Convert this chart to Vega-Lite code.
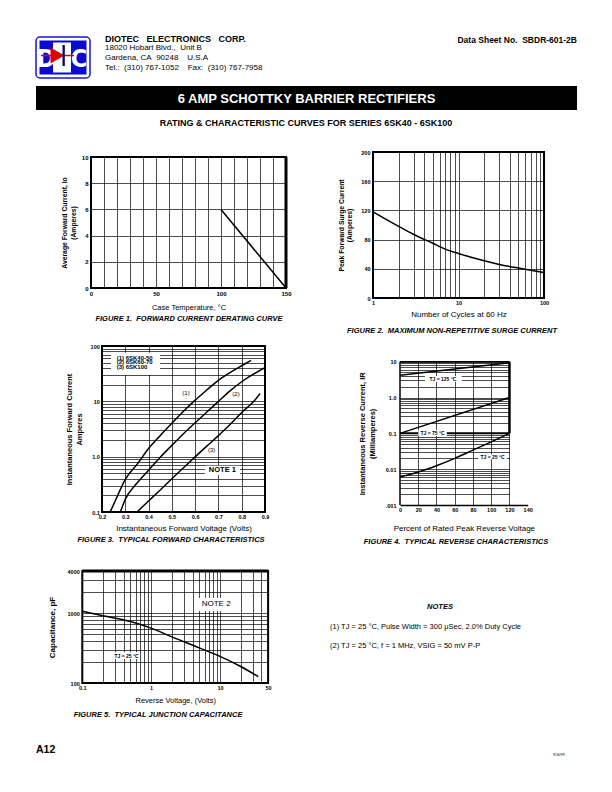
{
"$schema":"https://vega.github.io/schema/vega-lite/v6.json",
"width":612,"height":792,"padding":0,"autosize":{"type":"none"},"background":"white",
"config":{"view":{"stroke":null},"font":"Liberation Sans",
 "axis":{"labelFont":"Liberation Sans","labelFontWeight":"bold","labelFontSize":5.5,"labelColor":"black","titleFont":"Liberation Sans","titleColor":"black","titleFontWeight":"normal","titleFontSize":8,"grid":false,"domain":false,"ticks":false,"labelFlush":false,"labelOverlap":false,"labelBound":false,"gridColor":"black","gridOpacity":1,"gridWidth":0.7,"labelPadding":2.5}},
"resolve":{"scale":{"x":"independent","y":"independent"},"axis":{"x":"independent","y":"independent"}},
"layer":[
{"data":{"values":[{}]},
 "layer":[
  {"mark":{"type":"rect","fill":"white","stroke":"#1414d8","strokeWidth":1.5,"cornerRadius":4},"encoding":{"x":{"datum":36,"type":"quantitative","scale":{"domain":[0,612],"range":[0,612],"nice":false,"zero":false},"axis":null},"x2":{"datum":90},"y":{"datum":37,"type":"quantitative","scale":{"domain":[0,792],"range":[0,792],"nice":false,"zero":false},"axis":null},"y2":{"datum":78}}},
  {"mark":{"type":"rect","fill":"#0a0ad2"},"encoding":{"x":{"datum":39.5,"type":"quantitative","scale":{"domain":[0,612],"range":[0,612],"nice":false,"zero":false},"axis":null},"x2":{"datum":86.5},"y":{"datum":40.5,"type":"quantitative","scale":{"domain":[0,792],"range":[0,792],"nice":false,"zero":false},"axis":null},"y2":{"datum":74.5}}},
  {"mark":{"type":"rect","fill":"white"},"encoding":{"x":{"datum":53,"type":"quantitative","scale":{"domain":[0,612],"range":[0,612],"nice":false,"zero":false},"axis":null},"x2":{"datum":71},"y":{"datum":42.5,"type":"quantitative","scale":{"domain":[0,792],"range":[0,792],"nice":false,"zero":false},"axis":null},"y2":{"datum":72.5}}},
  {"mark":{"type":"text","text":"D","font":"Liberation Sans Narrow, DejaVu Sans Condensed, Liberation Sans","fontSize":25,"fontWeight":"bold","color":"white","align":"center","baseline":"middle"},"encoding":{"x":{"datum":46,"type":"quantitative","scale":{"domain":[0,612],"range":[0,612],"nice":false,"zero":false},"axis":null},"y":{"datum":58.5,"type":"quantitative","scale":{"domain":[0,792],"range":[0,792],"nice":false,"zero":false},"axis":null}}},
  {"mark":{"type":"text","text":"C","font":"Liberation Sans Narrow, DejaVu Sans Condensed, Liberation Sans","fontSize":25,"fontWeight":"bold","color":"white","align":"center","baseline":"middle"},"encoding":{"x":{"datum":79,"type":"quantitative","scale":{"domain":[0,612],"range":[0,612],"nice":false,"zero":false},"axis":null},"y":{"datum":58.5,"type":"quantitative","scale":{"domain":[0,792],"range":[0,792],"nice":false,"zero":false},"axis":null}}},
  {"mark":{"type":"rule","color":"#e00000","strokeWidth":1.6},"encoding":{"x":{"datum":41,"type":"quantitative","scale":{"domain":[0,612],"range":[0,612],"nice":false,"zero":false},"axis":null},"x2":{"datum":74},"y":{"datum":55.5,"type":"quantitative","scale":{"domain":[0,792],"range":[0,792],"nice":false,"zero":false},"axis":null}}},
  {"mark":{"type":"point","shape":"triangle-right","filled":true,"color":"#e00000","size":260,"opacity":1},"encoding":{"x":{"datum":57.5,"type":"quantitative","scale":{"domain":[0,612],"range":[0,612],"nice":false,"zero":false},"axis":null},"y":{"datum":55.5,"type":"quantitative","scale":{"domain":[0,792],"range":[0,792],"nice":false,"zero":false},"axis":null}}},
  {"mark":{"type":"rect","fill":"#000070"},"encoding":{"x":{"datum":62.5,"type":"quantitative","scale":{"domain":[0,612],"range":[0,612],"nice":false,"zero":false},"axis":null},"x2":{"datum":64.8},"y":{"datum":45,"type":"quantitative","scale":{"domain":[0,792],"range":[0,792],"nice":false,"zero":false},"axis":null},"y2":{"datum":66}}},
  {"mark":{"type":"text","text":"DIOTEC\u00a0\u00a0\u00a0ELECTRONICS\u00a0\u00a0\u00a0CORP.","fontSize":9,"fontWeight":"bold","align":"left","baseline":"middle"},"encoding":{"x":{"datum":105,"type":"quantitative","scale":{"domain":[0,612],"range":[0,612],"nice":false,"zero":false},"axis":null},"y":{"datum":39,"type":"quantitative","scale":{"domain":[0,792],"range":[0,792],"nice":false,"zero":false},"axis":null}}},
  {"mark":{"type":"text","text":"18020 Hobart Blvd.,\u00a0\u00a0Unit B","fontSize":8,"align":"left","baseline":"middle"},"encoding":{"x":{"datum":105,"type":"quantitative","scale":{"domain":[0,612],"range":[0,612],"nice":false,"zero":false},"axis":null},"y":{"datum":48.3,"type":"quantitative","scale":{"domain":[0,792],"range":[0,792],"nice":false,"zero":false},"axis":null}}},
  {"mark":{"type":"text","text":"Gardena, CA\u00a0\u00a090248\u00a0\u00a0\u00a0\u00a0U.S.A","fontSize":8,"align":"left","baseline":"middle"},"encoding":{"x":{"datum":105,"type":"quantitative","scale":{"domain":[0,612],"range":[0,612],"nice":false,"zero":false},"axis":null},"y":{"datum":58,"type":"quantitative","scale":{"domain":[0,792],"range":[0,792],"nice":false,"zero":false},"axis":null}}},
  {"mark":{"type":"text","text":"Tel.:\u00a0\u00a0(310) 767-1052\u00a0\u00a0\u00a0\u00a0Fax:\u00a0\u00a0(310) 767-7958","fontSize":8,"align":"left","baseline":"middle"},"encoding":{"x":{"datum":105,"type":"quantitative","scale":{"domain":[0,612],"range":[0,612],"nice":false,"zero":false},"axis":null},"y":{"datum":67.8,"type":"quantitative","scale":{"domain":[0,792],"range":[0,792],"nice":false,"zero":false},"axis":null}}},
  {"mark":{"type":"text","text":"Data Sheet No.\u00a0\u00a0SBDR-601-2B","fontSize":8.5,"fontWeight":"bold","align":"right","baseline":"middle"},"encoding":{"x":{"datum":577,"type":"quantitative","scale":{"domain":[0,612],"range":[0,612],"nice":false,"zero":false},"axis":null},"y":{"datum":40,"type":"quantitative","scale":{"domain":[0,792],"range":[0,792],"nice":false,"zero":false},"axis":null}}},
  {"mark":{"type":"rect","fill":"black"},"encoding":{"x":{"datum":36,"type":"quantitative","scale":{"domain":[0,612],"range":[0,612],"nice":false,"zero":false},"axis":null},"x2":{"datum":577},"y":{"datum":86,"type":"quantitative","scale":{"domain":[0,792],"range":[0,792],"nice":false,"zero":false},"axis":null},"y2":{"datum":110}}},
  {"mark":{"type":"text","text":"6 AMP SCHOTTKY BARRIER RECTIFIERS","fontSize":13,"fontWeight":"bold","color":"white","align":"center","baseline":"middle"},"encoding":{"x":{"datum":306.5,"type":"quantitative","scale":{"domain":[0,612],"range":[0,612],"nice":false,"zero":false},"axis":null},"y":{"datum":98.5,"type":"quantitative","scale":{"domain":[0,792],"range":[0,792],"nice":false,"zero":false},"axis":null}}},
  {"mark":{"type":"text","text":"RATING & CHARACTERISTIC CURVES FOR SERIES 6SK40 - 6SK100","fontSize":9,"fontWeight":"bold","align":"center","baseline":"middle"},"encoding":{"x":{"datum":306,"type":"quantitative","scale":{"domain":[0,612],"range":[0,612],"nice":false,"zero":false},"axis":null},"y":{"datum":123,"type":"quantitative","scale":{"domain":[0,792],"range":[0,792],"nice":false,"zero":false},"axis":null}}},
  {"mark":{"type":"text","text":"FIGURE 1.\u00a0\u00a0FORWARD CURRENT DERATING CURVE","fontSize":7.5,"fontWeight":"bold","fontStyle":"italic","align":"center","baseline":"middle"},"encoding":{"x":{"datum":189,"type":"quantitative","scale":{"domain":[0,612],"range":[0,612],"nice":false,"zero":false},"axis":null},"y":{"datum":318.5,"type":"quantitative","scale":{"domain":[0,792],"range":[0,792],"nice":false,"zero":false},"axis":null}}},
  {"mark":{"type":"text","text":"FIGURE 2.\u00a0\u00a0MAXIMUM NON-REPETITIVE SURGE CURRENT","fontSize":7.5,"fontWeight":"bold","fontStyle":"italic","align":"center","baseline":"middle"},"encoding":{"x":{"datum":452,"type":"quantitative","scale":{"domain":[0,612],"range":[0,612],"nice":false,"zero":false},"axis":null},"y":{"datum":330.5,"type":"quantitative","scale":{"domain":[0,792],"range":[0,792],"nice":false,"zero":false},"axis":null}}},
  {"mark":{"type":"text","text":"FIGURE 3.\u00a0\u00a0TYPICAL FORWARD CHARACTERISTICS","fontSize":7.5,"fontWeight":"bold","fontStyle":"italic","align":"center","baseline":"middle"},"encoding":{"x":{"datum":171,"type":"quantitative","scale":{"domain":[0,612],"range":[0,612],"nice":false,"zero":false},"axis":null},"y":{"datum":539.5,"type":"quantitative","scale":{"domain":[0,792],"range":[0,792],"nice":false,"zero":false},"axis":null}}},
  {"mark":{"type":"text","text":"FIGURE 4.\u00a0\u00a0TYPICAL REVERSE CHARACTERISTICS","fontSize":7.5,"fontWeight":"bold","fontStyle":"italic","align":"center","baseline":"middle"},"encoding":{"x":{"datum":456,"type":"quantitative","scale":{"domain":[0,612],"range":[0,612],"nice":false,"zero":false},"axis":null},"y":{"datum":542,"type":"quantitative","scale":{"domain":[0,792],"range":[0,792],"nice":false,"zero":false},"axis":null}}},
  {"mark":{"type":"text","text":"FIGURE 5.\u00a0\u00a0TYPICAL JUNCTION CAPACITANCE","fontSize":7.5,"fontWeight":"bold","fontStyle":"italic","align":"center","baseline":"middle"},"encoding":{"x":{"datum":158,"type":"quantitative","scale":{"domain":[0,612],"range":[0,612],"nice":false,"zero":false},"axis":null},"y":{"datum":715,"type":"quantitative","scale":{"domain":[0,792],"range":[0,792],"nice":false,"zero":false},"axis":null}}},
  {"mark":{"type":"text","text":"NOTES","fontSize":7.5,"fontWeight":"bold","fontStyle":"italic","align":"center","baseline":"middle"},"encoding":{"x":{"datum":440,"type":"quantitative","scale":{"domain":[0,612],"range":[0,612],"nice":false,"zero":false},"axis":null},"y":{"datum":607,"type":"quantitative","scale":{"domain":[0,792],"range":[0,792],"nice":false,"zero":false},"axis":null}}},
  {"mark":{"type":"text","text":"(1) TJ = 25 °C, Pulse Width = 300 μSec, 2.0% Duty Cycle","fontSize":7.5,"align":"left","baseline":"middle"},"encoding":{"x":{"datum":330,"type":"quantitative","scale":{"domain":[0,612],"range":[0,612],"nice":false,"zero":false},"axis":null},"y":{"datum":627,"type":"quantitative","scale":{"domain":[0,792],"range":[0,792],"nice":false,"zero":false},"axis":null}}},
  {"mark":{"type":"text","text":"(2) TJ = 25 °C, f = 1 MHz, VSIG = 50 mV P-P","fontSize":7.5,"align":"left","baseline":"middle"},"encoding":{"x":{"datum":330,"type":"quantitative","scale":{"domain":[0,612],"range":[0,612],"nice":false,"zero":false},"axis":null},"y":{"datum":646,"type":"quantitative","scale":{"domain":[0,792],"range":[0,792],"nice":false,"zero":false},"axis":null}}},
  {"mark":{"type":"text","text":"A12","fontSize":10.5,"fontWeight":"bold","align":"left","baseline":"middle"},"encoding":{"x":{"datum":36,"type":"quantitative","scale":{"domain":[0,612],"range":[0,612],"nice":false,"zero":false},"axis":null},"y":{"datum":750,"type":"quantitative","scale":{"domain":[0,792],"range":[0,792],"nice":false,"zero":false},"axis":null}}},
  {"mark":{"type":"text","text":"9/16/99","fontSize":3.5,"align":"left","baseline":"middle"},"encoding":{"x":{"datum":553,"type":"quantitative","scale":{"domain":[0,612],"range":[0,612],"nice":false,"zero":false},"axis":null},"y":{"datum":755,"type":"quantitative","scale":{"domain":[0,792],"range":[0,792],"nice":false,"zero":false},"axis":null}}}
 ]},
{"resolve":{"axis":{"x":"independent","y":"independent"}},
 "layer":[
  {"data":{"values":[{"case_temp":100,"avg_current":6},{"case_temp":150,"avg_current":0}]},
   "mark":{"type":"line","color":"black","strokeWidth":1.5},
   "encoding":{"x":{"field":"case_temp","type":"quantitative","scale":{"type":"linear","domain":[0,150],"range":[91,286],"nice":false,"zero":false},"axis":{"orient":"top","grid":true,"labels":false,"title":null,"values":[10,20,30,40,50,60,70,80,90,100,110,120,130,140]}},
    "y":{"field":"avg_current","type":"quantitative","scale":{"type":"linear","domain":[0,10],"range":[288,157],"nice":false,"zero":false},"axis":{"orient":"left","grid":true,"labels":false,"title":null,"values":[2,4,6,8]}}}},
  {"data":{"values":[{}]},
   "mark":{"type":"rect","filled":false,"color":"black","strokeWidth":2},
   "encoding":{"x":{"datum":0,"type":"quantitative","scale":{"type":"linear","domain":[0,150],"range":[91,286],"nice":false,"zero":false},"axis":{"orient":"bottom","offset":-504,"values":[0,50,100,150],"labelFontSize":6,"labelExpr":"datum.value + ''","title":"Case Temperature, °C","titleFontSize":7.5,"titlePadding":7}},
    "x2":{"datum":150},
    "y":{"datum":0,"type":"quantitative","scale":{"type":"linear","domain":[0,10],"range":[288,157],"nice":false,"zero":false},"axis":{"orient":"left","offset":-91,"values":[0,2,4,6,8,10],"labelFontSize":6,"labelPadding":3,"labelExpr":"datum.value + ''","title":["Average Forward Current, Io","(Amperes)"],"titleFontWeight":"bold","titleFontSize":6.8,"titlePadding":5}},
    "y2":{"datum":10}}},
  {"data":{"values":[{}]},
   "mark":{"type":"rule","color":"black","strokeWidth":3},
   "encoding":{"x":{"datum":150,"type":"quantitative","scale":{"type":"linear","domain":[0,150],"range":[91,286],"nice":false,"zero":false},"axis":null},
    "y":{"datum":0,"type":"quantitative","scale":{"type":"linear","domain":[0,10],"range":[288,157],"nice":false,"zero":false},"axis":null},"y2":{"datum":10}}}
 ]},
{"resolve":{"axis":{"x":"independent","y":"independent"}},
 "layer":[
  {"data":{"values":[{"cycles":1,"surge":118},{"cycles":2,"surge":98},{"cycles":3,"surge":87},{"cycles":5,"surge":75},{"cycles":7,"surge":67},{"cycles":10,"surge":61},{"cycles":20,"surge":51},{"cycles":30,"surge":46},{"cycles":50,"surge":41},{"cycles":70,"surge":38},{"cycles":100,"surge":35}]},
   "mark":{"type":"line","color":"black","strokeWidth":1.5,"interpolate":"monotone"},
   "encoding":{"x":{"field":"cycles","type":"quantitative","scale":{"type":"log","domain":[1,100],"range":[373,544],"nice":false},"axis":{"orient":"top","grid":true,"labels":false,"title":null,"values":[2,3,4,5,6,7,8,9,10,20,30,40,50,60,70,80,90]}},
    "y":{"field":"surge","type":"quantitative","scale":{"type":"linear","domain":[0,200],"range":[298,152],"nice":false,"zero":false},"axis":{"orient":"left","grid":true,"labels":false,"title":null,"values":[40,80,120,160]}}}},
  {"data":{"values":[{}]},
   "mark":{"type":"rect","filled":false,"color":"black","strokeWidth":2},
   "encoding":{"x":{"datum":1,"type":"quantitative","scale":{"type":"log","domain":[1,100],"range":[373,544],"nice":false},"axis":{"orient":"bottom","offset":-494,"values":[1,10,100],"labelExpr":"datum.value + ''","title":"Number of Cycles at 60 Hz","titleFontSize":8,"titlePadding":4.5}},
    "x2":{"datum":100},
    "y":{"datum":0,"type":"quantitative","scale":{"type":"linear","domain":[0,200],"range":[298,152],"nice":false,"zero":false},"axis":{"orient":"left","offset":-373,"values":[0,40,80,120,160,200],"labelPadding":3,"labelExpr":"datum.value + ''","title":["Peak Forward Surge Current","(Amperes)"],"titleFontWeight":"bold","titleFontSize":6.8,"titlePadding":8}},
    "y2":{"datum":200}}}
 ]},
{"resolve":{"axis":{"x":"independent","y":"independent"}},
 "layer":[
  {"data":{"values":[
    {"voltage":0.235,"current":0.1,"series":"6SK40-50"},{"voltage":0.26,"current":0.17,"series":"6SK40-50"},{"voltage":0.3,"current":0.39,"series":"6SK40-50"},{"voltage":0.35,"current":0.72,"series":"6SK40-50"},{"voltage":0.4,"current":1.4,"series":"6SK40-50"},{"voltage":0.45,"current":2.4,"series":"6SK40-50"},{"voltage":0.5,"current":4.0,"series":"6SK40-50"},{"voltage":0.55,"current":6.6,"series":"6SK40-50"},{"voltage":0.6,"current":10.5,"series":"6SK40-50"},{"voltage":0.65,"current":16,"series":"6SK40-50"},{"voltage":0.7,"current":24,"series":"6SK40-50"},{"voltage":0.75,"current":33,"series":"6SK40-50"},{"voltage":0.8,"current":44,"series":"6SK40-50"},{"voltage":0.84,"current":55,"series":"6SK40-50"},
    {"voltage":0.279,"current":0.1,"series":"6SK60-70"},{"voltage":0.3,"current":0.17,"series":"6SK60-70"},{"voltage":0.35,"current":0.33,"series":"6SK60-70"},{"voltage":0.4,"current":0.57,"series":"6SK60-70"},{"voltage":0.45,"current":0.98,"series":"6SK60-70"},{"voltage":0.5,"current":1.6,"series":"6SK60-70"},{"voltage":0.55,"current":2.6,"series":"6SK60-70"},{"voltage":0.6,"current":4.1,"series":"6SK60-70"},{"voltage":0.65,"current":6.4,"series":"6SK60-70"},{"voltage":0.7,"current":10,"series":"6SK60-70"},{"voltage":0.75,"current":15.5,"series":"6SK60-70"},{"voltage":0.8,"current":22.6,"series":"6SK60-70"},{"voltage":0.85,"current":31,"series":"6SK60-70"},{"voltage":0.9,"current":40.5,"series":"6SK60-70"},
    {"voltage":0.35,"current":0.1,"series":"6SK100"},{"voltage":0.4,"current":0.158,"series":"6SK100"},{"voltage":0.45,"current":0.25,"series":"6SK100"},{"voltage":0.5,"current":0.4,"series":"6SK100"},{"voltage":0.55,"current":0.63,"series":"6SK100"},{"voltage":0.6,"current":0.99,"series":"6SK100"},{"voltage":0.65,"current":1.55,"series":"6SK100"},{"voltage":0.7,"current":2.4,"series":"6SK100"},{"voltage":0.75,"current":3.8,"series":"6SK100"},{"voltage":0.8,"current":6.3,"series":"6SK100"},{"voltage":0.85,"current":9.8,"series":"6SK100"},{"voltage":0.879,"current":13.9,"series":"6SK100"}]},
   "mark":{"type":"line","color":"black","strokeWidth":1.5,"interpolate":"monotone"},
   "encoding":{"x":{"field":"voltage","type":"quantitative","scale":{"type":"linear","domain":[0.2,0.9],"range":[102,265],"nice":false,"zero":false},"axis":{"orient":"top","grid":true,"labels":false,"title":null,"values":[0.3,0.4,0.5,0.6,0.7,0.8]}},
    "y":{"field":"current","type":"quantitative","scale":{"type":"log","domain":[0.1,100],"range":[512,346],"nice":false},"axis":{"orient":"left","grid":true,"labels":false,"title":null,"values":[0.2,0.3,0.4,0.5,0.6,0.7,0.8,0.9,1,2,3,4,5,6,7,8,9,10,20,30,40,50,60,70,80,90]}},
    "detail":{"field":"series"}}},
  {"data":{"values":[{}]},
   "mark":{"type":"rect","filled":false,"color":"black","strokeWidth":2},
   "encoding":{"x":{"datum":0.2,"type":"quantitative","scale":{"type":"linear","domain":[0.2,0.9],"range":[102,265],"nice":false,"zero":false},"axis":{"orient":"bottom","offset":-280,"values":[0.2,0.3,0.4,0.5,0.6,0.7,0.8,0.9],"labelExpr":"format(datum.value, '.1f')","title":"Instantaneous Forward Voltage (Volts)","titleFontSize":8,"titlePadding":4}},
    "x2":{"datum":0.9},
    "y":{"datum":0.1,"type":"quantitative","scale":{"type":"log","domain":[0.1,100],"range":[512,346],"nice":false},"axis":{"orient":"left","offset":-102,"values":[0.1,1,10,100],"labelPadding":2.7,"labelExpr":"datum.value < 0.5 ? '0.1' : datum.value < 5 ? '1.0' : datum.value < 50 ? '10' : '100'","title":["Instantaneous Forward Current","Amperes"],"titleFontWeight":"bold","titleFontSize":7.5,"titlePadding":7}},
    "y2":{"datum":100}}},
  {"data":{"values":[{}]},
   "mark":{"type":"rect","fill":"white"},
   "encoding":{"x":{"datum":0.2387,"type":"quantitative","scale":{"type":"linear","domain":[0.2,0.9],"range":[102,265],"nice":false,"zero":false},"axis":null},"x2":{"datum":0.449},
    "y":{"datum":29.9,"type":"quantitative","scale":{"type":"log","domain":[0.1,100],"range":[512,346],"nice":false},"axis":null},"y2":{"datum":75.7}}},
  {"data":{"values":[{}]},
   "mark":{"type":"rect","fill":"white"},
   "encoding":{"x":{"datum":0.642,"type":"quantitative","scale":{"type":"linear","domain":[0.2,0.9],"range":[102,265],"nice":false,"zero":false},"axis":null},"x2":{"datum":0.793},
    "y":{"datum":0.467,"type":"quantitative","scale":{"type":"log","domain":[0.1,100],"range":[512,346],"nice":false},"axis":null},"y2":{"datum":0.687}}},
  {"data":{"values":[{}]},
   "mark":{"type":"text","text":"(1) 6SK40-50","fontSize":6,"fontWeight":"bold","align":"left","baseline":"middle"},
   "encoding":{"x":{"datum":0.263,"type":"quantitative","scale":{"type":"linear","domain":[0.2,0.9],"range":[102,265],"nice":false,"zero":false},"axis":null},
    "y":{"datum":61.5,"type":"quantitative","scale":{"type":"log","domain":[0.1,100],"range":[512,346],"nice":false},"axis":null}}},
  {"data":{"values":[{}]},
   "mark":{"type":"text","text":"(2) 6SK60-70","fontSize":6,"fontWeight":"bold","align":"left","baseline":"middle"},
   "encoding":{"x":{"datum":0.263,"type":"quantitative","scale":{"type":"linear","domain":[0.2,0.9],"range":[102,265],"nice":false,"zero":false},"axis":null},
    "y":{"datum":50.8,"type":"quantitative","scale":{"type":"log","domain":[0.1,100],"range":[512,346],"nice":false},"axis":null}}},
  {"data":{"values":[{}]},
   "mark":{"type":"text","text":"(3) 6SK100","fontSize":6,"fontWeight":"bold","align":"left","baseline":"middle"},
   "encoding":{"x":{"datum":0.263,"type":"quantitative","scale":{"type":"linear","domain":[0.2,0.9],"range":[102,265],"nice":false,"zero":false},"axis":null},
    "y":{"datum":41.8,"type":"quantitative","scale":{"type":"log","domain":[0.1,100],"range":[512,346],"nice":false},"axis":null}}},
  {"data":{"values":[{}]},
   "mark":{"type":"text","text":"(1)","fontSize":6,"align":"center","baseline":"middle"},
   "encoding":{"x":{"datum":0.5607,"type":"quantitative","scale":{"type":"linear","domain":[0.2,0.9],"range":[102,265],"nice":false,"zero":false},"axis":null},
    "y":{"datum":13.97,"type":"quantitative","scale":{"type":"log","domain":[0.1,100],"range":[512,346],"nice":false},"axis":null}}},
  {"data":{"values":[{}]},
   "mark":{"type":"text","text":"(2)","fontSize":6,"align":"center","baseline":"middle"},
   "encoding":{"x":{"datum":0.7755,"type":"quantitative","scale":{"type":"linear","domain":[0.2,0.9],"range":[102,265],"nice":false,"zero":false},"axis":null},
    "y":{"datum":13.4,"type":"quantitative","scale":{"type":"log","domain":[0.1,100],"range":[512,346],"nice":false},"axis":null}}},
  {"data":{"values":[{}]},
   "mark":{"type":"text","text":"(3)","fontSize":6,"align":"center","baseline":"middle"},
   "encoding":{"x":{"datum":0.671,"type":"quantitative","scale":{"type":"linear","domain":[0.2,0.9],"range":[102,265],"nice":false,"zero":false},"axis":null},
    "y":{"datum":1.32,"type":"quantitative","scale":{"type":"log","domain":[0.1,100],"range":[512,346],"nice":false},"axis":null}}},
  {"data":{"values":[{}]},
   "mark":{"type":"text","text":"NOTE 1","fontSize":7.5,"fontWeight":"bold","align":"center","baseline":"middle"},
   "encoding":{"x":{"datum":0.717,"type":"quantitative","scale":{"type":"linear","domain":[0.2,0.9],"range":[102,265],"nice":false,"zero":false},"axis":null},
    "y":{"datum":0.568,"type":"quantitative","scale":{"type":"log","domain":[0.1,100],"range":[512,346],"nice":false},"axis":null}}}
 ]},
{"data":{"values":[{}]},
 "mark":{"type":"rule","color":"black","strokeWidth":2},
 "encoding":{"x":{"datum":0,"type":"quantitative","scale":{"type":"linear","domain":[0,120],"range":[400,509.5],"nice":false,"zero":false},"axis":null},"x2":{"datum":120},
  "y":{"datum":0.1,"type":"quantitative","scale":{"type":"log","domain":[0.001,10],"range":[505,361.7],"nice":false},"axis":{"orient":"left","grid":true,"labels":false,"title":null,"values":[0.002,0.003,0.004,0.005,0.006,0.007,0.008,0.009,0.01,0.02,0.03,0.04,0.05,0.06,0.07,0.08,0.09,0.1,0.2,0.3,0.4,0.5,0.6,0.7,0.8,0.9,1,2,3,4,5,6,7,8,9,10]}}}},
{"resolve":{"axis":{"x":"independent","y":"independent"}},
 "layer":[
  {"data":{"values":[
    {"pct_voltage":0,"reverse_ma":4.2,"tj":"125"},{"pct_voltage":120,"reverse_ma":9.4,"tj":"125"},
    {"pct_voltage":0,"reverse_ma":0.1,"tj":"75"},{"pct_voltage":120,"reverse_ma":1.0,"tj":"75"},
    {"pct_voltage":0,"reverse_ma":0.006,"tj":"25"},{"pct_voltage":20,"reverse_ma":0.0083,"tj":"25"},{"pct_voltage":40,"reverse_ma":0.0125,"tj":"25"},{"pct_voltage":60,"reverse_ma":0.02,"tj":"25"},{"pct_voltage":80,"reverse_ma":0.034,"tj":"25"},{"pct_voltage":100,"reverse_ma":0.058,"tj":"25"},{"pct_voltage":120,"reverse_ma":0.1,"tj":"25"}]},
   "mark":{"type":"line","color":"black","strokeWidth":1.5,"interpolate":"monotone"},
   "encoding":{"x":{"field":"pct_voltage","type":"quantitative","scale":{"type":"linear","domain":[0,140],"range":[400,527.7],"nice":false,"zero":false},"axis":{"orient":"top","grid":true,"labels":false,"title":null,"values":[20,40,60,80,100,120]}},
    "y":{"field":"reverse_ma","type":"quantitative","scale":{"type":"log","domain":[0.001,10],"range":[505,361.7],"nice":false},"axis":null},
    "detail":{"field":"tj"}}},
  {"data":{"values":[{}]},
   "mark":{"type":"rule","color":"black","strokeWidth":1.5},
   "encoding":{"x":{"datum":0,"type":"quantitative","scale":{"type":"linear","domain":[0,140],"range":[400,527.7],"nice":false,"zero":false},"axis":{"orient":"bottom","offset":-287,"values":[0,20,40,60,80,100,120,140],"domain":true,"domainColor":"black","domainWidth":1.5,"labelExpr":"datum.value + ''","title":"Percent of Rated Peak Reverse Voltage","titleFontSize":8,"titlePadding":11}},
    "y":{"datum":0.001,"type":"quantitative","scale":{"type":"log","domain":[0.001,10],"range":[505,361.7],"nice":false},"axis":{"orient":"left","offset":-400,"values":[0.001,0.01,0.1,1,10],"labelPadding":4,"labelExpr":"datum.value < 0.005 ? '.001' : datum.value < 0.05 ? '0.01' : datum.value < 0.5 ? '0.1' : datum.value < 5 ? '1.0' : '10'","title":["Instantaneous Reverse Current, IR","(Milliamperes)"],"titleFontWeight":"bold","titleFontSize":7.5,"titlePadding":9}},
    "y2":{"datum":10}}},
  {"data":{"values":[{}]},
   "mark":{"type":"rule","color":"black","strokeWidth":1.5},
   "encoding":{"x":{"datum":0,"type":"quantitative","scale":{"type":"linear","domain":[0,140],"range":[400,527.7],"nice":false,"zero":false},"axis":null},"x2":{"datum":120},
    "y":{"datum":10,"type":"quantitative","scale":{"type":"log","domain":[0.001,10],"range":[505,361.7],"nice":false},"axis":null}}},
  {"data":{"values":[{}]},
   "mark":{"type":"rule","color":"black","strokeWidth":2.5},
   "encoding":{"x":{"datum":120,"type":"quantitative","scale":{"type":"linear","domain":[0,140],"range":[400,527.7],"nice":false,"zero":false},"axis":null},
    "y":{"datum":0.1,"type":"quantitative","scale":{"type":"log","domain":[0.001,10],"range":[505,361.7],"nice":false},"axis":null},"y2":{"datum":10}}},
  {"data":{"values":[{}]},
   "mark":{"type":"rect","fill":"white"},
   "encoding":{"x":{"datum":27.4,"type":"quantitative","scale":{"type":"linear","domain":[0,140],"range":[400,527.7],"nice":false,"zero":false},"axis":null},"x2":{"datum":67.6},
    "y":{"datum":2.76,"type":"quantitative","scale":{"type":"log","domain":[0.001,10],"range":[505,361.7],"nice":false},"axis":null},"y2":{"datum":3.98}}},
  {"data":{"values":[{}]},
   "mark":{"type":"rect","fill":"white"},
   "encoding":{"x":{"datum":20.1,"type":"quantitative","scale":{"type":"linear","domain":[0,140],"range":[400,527.7],"nice":false,"zero":false},"axis":null},"x2":{"datum":51.2},
    "y":{"datum":0.0841,"type":"quantitative","scale":{"type":"log","domain":[0.001,10],"range":[505,361.7],"nice":false},"axis":null},"y2":{"datum":0.1236}}},
  {"data":{"values":[{}]},
   "mark":{"type":"rect","fill":"white"},
   "encoding":{"x":{"datum":85.8,"type":"quantitative","scale":{"type":"linear","domain":[0,140],"range":[400,527.7],"nice":false,"zero":false},"axis":null},"x2":{"datum":117},
    "y":{"datum":0.0188,"type":"quantitative","scale":{"type":"log","domain":[0.001,10],"range":[505,361.7],"nice":false},"axis":null},"y2":{"datum":0.0259}}},
  {"data":{"values":[{}]},
   "mark":{"type":"text","text":"TJ = 125 °C","fontSize":5,"fontWeight":"bold","align":"center","baseline":"middle"},
   "encoding":{"x":{"datum":47.1,"type":"quantitative","scale":{"type":"linear","domain":[0,140],"range":[400,527.7],"nice":false,"zero":false},"axis":null},
    "y":{"datum":3.29,"type":"quantitative","scale":{"type":"log","domain":[0.001,10],"range":[505,361.7],"nice":false},"axis":null}}},
  {"data":{"values":[{}]},
   "mark":{"type":"text","text":"TJ = 75 °C","fontSize":5,"fontWeight":"bold","align":"center","baseline":"middle"},
   "encoding":{"x":{"datum":35.6,"type":"quantitative","scale":{"type":"linear","domain":[0,140],"range":[400,527.7],"nice":false,"zero":false},"axis":null},
    "y":{"datum":0.102,"type":"quantitative","scale":{"type":"log","domain":[0.001,10],"range":[505,361.7],"nice":false},"axis":null}}},
  {"data":{"values":[{}]},
   "mark":{"type":"text","text":"TJ = 25 °C","fontSize":5,"fontWeight":"bold","align":"center","baseline":"middle"},
   "encoding":{"x":{"datum":101.4,"type":"quantitative","scale":{"type":"linear","domain":[0,140],"range":[400,527.7],"nice":false,"zero":false},"axis":null},
    "y":{"datum":0.0221,"type":"quantitative","scale":{"type":"log","domain":[0.001,10],"range":[505,361.7],"nice":false},"axis":null}}}
 ]},
{"resolve":{"axis":{"x":"independent","y":"independent"}},
 "layer":[
  {"data":{"values":[{"reverse_v":0.1,"capacitance":1060},{"reverse_v":0.2,"capacitance":915},{"reverse_v":0.5,"capacitance":760},{"reverse_v":1,"capacitance":610},{"reverse_v":2,"capacitance":456},{"reverse_v":5,"capacitance":318},{"reverse_v":10,"capacitance":240},{"reverse_v":20,"capacitance":172},{"reverse_v":36,"capacitance":123}]},
   "mark":{"type":"line","color":"black","strokeWidth":1.5,"interpolate":"monotone"},
   "encoding":{"x":{"field":"reverse_v","type":"quantitative","scale":{"type":"log","domain":[0.1,50],"range":[82.3,268.1],"nice":false},"axis":{"orient":"top","grid":true,"labels":false,"title":null,"values":[0.2,0.3,0.4,0.5,0.6,0.7,0.8,0.9,1,2,3,4,5,6,7,8,9,10,20,30,40]}},
    "y":{"field":"capacitance","type":"quantitative","scale":{"type":"log","domain":[100,4000],"range":[683,571],"nice":false},"axis":{"orient":"left","grid":true,"labels":false,"title":null,"values":[200,300,400,500,600,700,800,900,1000,2000,3000]}}}},
  {"data":{"values":[{}]},
   "mark":{"type":"rect","filled":false,"color":"black","strokeWidth":2},
   "encoding":{"x":{"datum":0.1,"type":"quantitative","scale":{"type":"log","domain":[0.1,50],"range":[82.3,268.1],"nice":false},"axis":{"orient":"bottom","offset":-109,"values":[0.1,1,10,50],"labelExpr":"datum.value + ''","title":"Reverse Voltage, (Volts)","titleFontSize":7.5,"titlePadding":5}},
    "x2":{"datum":50},
    "y":{"datum":100,"type":"quantitative","scale":{"type":"log","domain":[100,4000],"range":[683,571],"nice":false},"axis":{"orient":"left","offset":-82.3,"values":[100,1000,4000],"labelPadding":3,"labelExpr":"datum.value + ''","title":"Capacitance, pF","titleFontWeight":"bold","titleFontSize":8,"titlePadding":11}},
    "y2":{"datum":4000}}},
  {"data":{"values":[{}]},
   "mark":{"type":"rule","color":"black","strokeWidth":3},
   "encoding":{"x":{"datum":0.1,"type":"quantitative","scale":{"type":"log","domain":[0.1,50],"range":[82.3,268.1],"nice":false},"axis":null},"x2":{"datum":50},
    "y":{"datum":4000,"type":"quantitative","scale":{"type":"log","domain":[100,4000],"range":[683,571],"nice":false},"axis":null}}},
  {"data":{"values":[{}]},
   "mark":{"type":"rect","fill":"white"},
   "encoding":{"x":{"datum":4.96,"type":"quantitative","scale":{"type":"log","domain":[0.1,50],"range":[82.3,268.1],"nice":false},"axis":null},"x2":{"datum":15.5},
    "y":{"datum":1072,"type":"quantitative","scale":{"type":"log","domain":[100,4000],"range":[683,571],"nice":false},"axis":null},"y2":{"datum":1644}}},
  {"data":{"values":[{}]},
   "mark":{"type":"rect","fill":"white"},
   "encoding":{"x":{"datum":0.2985,"type":"quantitative","scale":{"type":"log","domain":[0.1,50],"range":[82.3,268.1],"nice":false},"axis":null},"x2":{"datum":0.65},
    "y":{"datum":220,"type":"quantitative","scale":{"type":"log","domain":[100,4000],"range":[683,571],"nice":false},"axis":null},"y2":{"datum":275}}},
  {"data":{"values":[{}]},
   "mark":{"type":"text","text":"NOTE 2","fontSize":8,"align":"center","baseline":"middle"},
   "encoding":{"x":{"datum":8.8,"type":"quantitative","scale":{"type":"log","domain":[0.1,50],"range":[82.3,268.1],"nice":false},"axis":null},
    "y":{"datum":1337,"type":"quantitative","scale":{"type":"log","domain":[100,4000],"range":[683,571],"nice":false},"axis":null}}},
  {"data":{"values":[{}]},
   "mark":{"type":"text","text":"TJ = 25 °C","fontSize":5,"fontWeight":"bold","align":"center","baseline":"middle"},
   "encoding":{"x":{"datum":0.4385,"type":"quantitative","scale":{"type":"log","domain":[0.1,50],"range":[82.3,268.1],"nice":false},"axis":null},
    "y":{"datum":245,"type":"quantitative","scale":{"type":"log","domain":[100,4000],"range":[683,571],"nice":false},"axis":null}}}
 ]}
]
}
